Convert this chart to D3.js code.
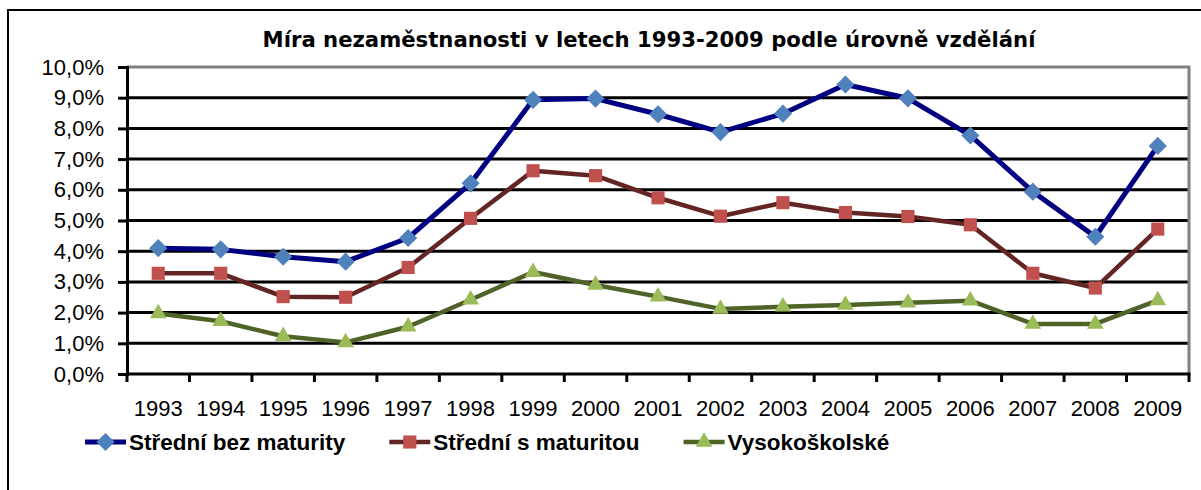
<!DOCTYPE html>
<html>
<head>
<meta charset="utf-8">
<script src="https://cdn.jsdelivr.net/npm/d3@7"></script>
<style>
  html, body { margin: 0; padding: 0; background: #fff; }
  svg { display: block; }
</style>
</head>
<body>
<svg id="chart"></svg>
<script>
// values (percent)
const years = ["1993", "1994", "1995", "1996", "1997", "1998", "1999", "2000", "2001",
               "2002", "2003", "2004", "2005", "2006", "2007", "2008", "2009"];
const bezMaturity = [4.10, 4.06, 3.82, 3.66, 4.43, 6.21, 8.93, 8.97, 8.46, 7.88, 8.48, 9.43, 8.98, 7.77, 5.94, 4.47, 7.43];
const sMaturitou = [3.28, 3.28, 2.52, 2.50, 3.47, 5.07, 6.62, 6.46, 5.74, 5.14, 5.58, 5.26, 5.13, 4.86, 3.28, 2.80, 4.72];
const vysokoskolske = [1.97, 1.72, 1.23, 1.03, 1.54, 2.42, 3.32, 2.90, 2.52, 2.12, 2.19, 2.25, 2.32, 2.39, 1.63, 1.63, 2.40];
const yTicks = [0, 1, 2, 3, 4, 5, 6, 7, 8, 9, 10];
const seriesNames = ["Střední bez maturity", "Střední s maturitou", "Vysokoškolské"];
const title = "Míra nezaměstnanosti v letech 1993-2009 podle úrovně vzdělání";

function drawChart() {
  const width = 1201;
  const height = 490;
  const plot = { left: 127, right: 1189, top: 67, bottom: 374 };

  const svg = d3.select("#chart")
      .attr("width", width)
      .attr("height", height);

  // outer chart frame (runs off the right and bottom edge)
  svg.append("rect")
      .attr("x", 8).attr("y", 10)
      .attr("width", width + 20).attr("height", height + 20)
      .attr("fill", "#fff")
      .attr("stroke", "#000")
      .attr("stroke-width", 2);

  const x = d3.scaleBand()
      .domain(years)
      .range([plot.left, plot.right]);

  const y = d3.scaleLinear()
      .domain([0, 10])
      .range([plot.bottom, plot.top]);

  // horizontal gridlines
  svg.append("g")
      .selectAll("line")
      .data(yTicks.filter(d => d > 0 && d < 10))
      .join("line")
      .attr("x1", plot.left).attr("x2", plot.right)
      .attr("y1", d => y(d)).attr("y2", d => y(d))
      .attr("stroke", "#000")
      .attr("stroke-width", 3);

  // grey plot border (top and right)
  svg.append("path")
      .attr("d", `M${plot.left},${y(10)}H${plot.right}V${plot.bottom}`)
      .attr("fill", "none")
      .attr("stroke", "#808080")
      .attr("stroke-width", 3);

  // y axis
  const yAxis = svg.append("g")
      .attr("transform", `translate(${plot.left},0)`)
      .call(d3.axisLeft(y)
          .tickValues(yTicks)
          .tickSize(9)
          .tickPadding(14)
          .tickFormat(d => d.toFixed(1).replace(".", ",") + "%"));
  yAxis.select(".domain").attr("stroke", "#000").attr("stroke-width", 3);
  yAxis.selectAll(".tick line").attr("stroke", "#000").attr("stroke-width", 3);
  yAxis.selectAll("text")
      .attr("fill", "#000")
      .style("font-family", "'Liberation Sans', Arial, sans-serif")
      .style("font-size", "22px");

  // x axis: ticks sit between categories
  const xAxis = svg.append("g")
      .attr("transform", `translate(0,${plot.bottom})`);
  xAxis.append("path")
      .attr("d", `M${plot.left},0H${plot.right + 1.5}`)
      .attr("stroke", "#000")
      .attr("stroke-width", 3);
  xAxis.selectAll(".tick")
      .data(years.concat(["end"]))
      .join("line")
      .attr("x1", d => d === "end" ? plot.right : x(d))
      .attr("x2", d => d === "end" ? plot.right : x(d))
      .attr("y1", 0).attr("y2", 8)
      .attr("stroke", "#000")
      .attr("stroke-width", 3);
  xAxis.selectAll("text")
      .data(years)
      .join("text")
      .attr("x", d => x(d) + x.bandwidth() / 2)
      .attr("y", 42)
      .attr("text-anchor", "middle")
      .attr("fill", "#000")
      .style("font-family", "'Liberation Sans', Arial, sans-serif")
      .style("font-size", "22px")
      .text(d => d);

  // series
  const series = [
    { name: seriesNames[0], values: bezMaturity, line: "#000080", fill: "#4F81BD", marker: d3.symbolDiamond2, size: 210, width: 5 },
    { name: seriesNames[1], values: sMaturitou, line: "#632523", fill: "#C0504D", marker: d3.symbolSquare2, size: 220, width: 4.5 },
    { name: seriesNames[2], values: vysokoskolske, line: "#4F6228", fill: "#9BBB59", marker: d3.symbolTriangle2, size: 200, width: 4.5 }
  ];

  const line = d3.line()
      .x((d, i) => x(years[i]) + x.bandwidth() / 2)
      .y(d => y(d));

  series.forEach(s => {
    svg.append("path")
        .datum(s.values)
        .attr("fill", "none")
        .attr("stroke", s.line)
        .attr("stroke-width", s.width)
        .attr("stroke-linejoin", "round")
        .attr("d", line);

    svg.append("g")
        .selectAll("path")
        .data(s.values)
        .join("path")
        .attr("transform", (d, i) => `translate(${x(years[i]) + x.bandwidth() / 2},${y(d)})`)
        .attr("d", d3.symbol().type(s.marker).size(s.size))
        .attr("fill", s.fill);
  });

  // title (Verdana-like bold)
  const titleText = svg.append("text")
      .attr("x", 649)
      .attr("y", 47)
      .attr("text-anchor", "middle")
      .attr("fill", "#000")
      .style("font-family", "'DejaVu Sans', Verdana, sans-serif")
      .style("font-weight", "bold")
      .style("font-size", "19px")
      .text(title);
  const tw = titleText.node().getComputedTextLength();
  titleText.style("font-size", (19 * 773 / tw).toFixed(2) + "px");

  // legend
  const legend = svg.append("g").attr("transform", "translate(85,450)");
  let lx = 0;
  series.forEach(s => {
    const item = legend.append("g").attr("transform", `translate(${lx},0)`);
    item.append("line")
        .attr("x1", 0).attr("x2", 41)
        .attr("y1", -8).attr("y2", -8)
        .attr("stroke", s.line)
        .attr("stroke-width", s.width);
    item.append("path")
        .attr("transform", "translate(20.5,-8)")
        .attr("d", d3.symbol().type(s.marker).size(s.size))
        .attr("fill", s.fill);
    const label = item.append("text")
        .attr("x", 44)
        .attr("y", 0)
        .attr("fill", "#000")
        .style("font-family", "'Liberation Sans', Arial, sans-serif")
        .style("font-weight", "bold")
        .style("font-size", "22.5px")
        .text(s.name);
    lx += 44 + label.node().getComputedTextLength() + 44;
  });
}

drawChart();
</script>
</body>
</html>
